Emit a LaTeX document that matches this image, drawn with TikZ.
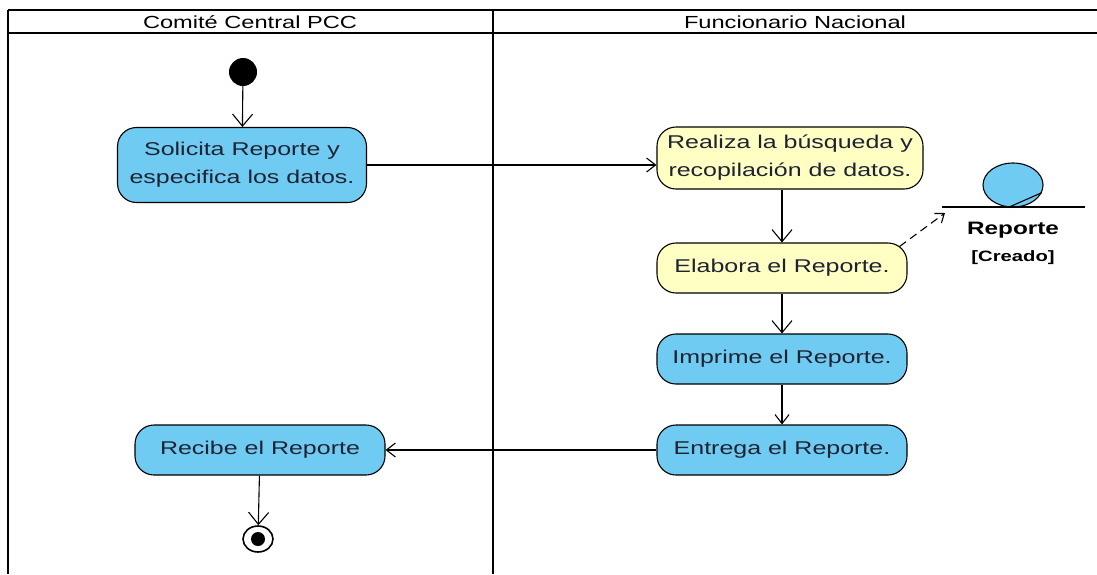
\documentclass[tikz,border=0pt]{standalone}
\usepackage{fontspec}
\setmainfont{Liberation Sans}[FakeStretch=1.35]
\usetikzlibrary{arrows.meta, positioning, shapes.geometric}
\definecolor{actblue}{RGB}{112,203,242}
\definecolor{actyellow}{RGB}{255,255,196}
\definecolor{txtdark}{RGB}{30,35,50}

\begin{document}
\begin{tikzpicture}[x=1pt, y=-1pt, node distance=4pt,
  act/.style={draw, line width=1.1pt, rounded corners=19pt, align=center, inner sep=2pt, text=txtdark, font=\fontsize{18.5}{28}\selectfont},
  blueact/.style={act, fill=actblue},
  yellowact/.style={act, fill=actyellow},
  flow/.style={draw, line width=1.1pt, -{Straight Barb[length=12pt, width=20pt]}},
  smallflow/.style={draw, line width=1.1pt, -{Straight Barb[length=9pt, width=14pt]}},
  lane/.style={line width=2.4pt}]
\useasboundingbox (0,0) rectangle (1097,574);
% swimlanes
\draw[line width=1.8pt] (8,10) -- (1097,10);
\draw[lane] (8,33) -- (1097,33);
\draw[lane] (8,10) -- (8,574);
\draw[lane] (493,10) -- (493,574);
\node[font=\fontsize{17.5}{20}\selectfont] (comite) at (250,22) {Comité Central PCC};
\node[font=\fontsize{17.5}{20}\selectfont] (funcionario) at (795,22) {Funcionario Nacional};
% activities
\node[fill=black, circle, minimum size=28pt, inner sep=0pt] (start) at (243,72) {};
\node[blueact, minimum width=249pt, minimum height=75pt] (solicita) at (242,165) {Solicita Reporte y\\especifica los datos.};
\node[yellowact, minimum width=266pt, minimum height=62pt] (realiza) at (790,158) {Realiza la búsqueda y\\recopilación de datos.};
\node[yellowact, minimum width=250pt, minimum height=50pt] (elabora) at (782,268) {Elabora el Reporte.};
\node[blueact, minimum width=250pt, minimum height=50pt] (imprime) at (782,359) {Imprime el Reporte.};
\node[blueact, minimum width=250pt, minimum height=50pt] (entrega) at (782,450) {Entrega el Reporte.};
\node[blueact, minimum width=250pt, minimum height=50pt] (recibe) at (260,450) {Recibe el Reporte};
\node[draw, ellipse, line width=1.6pt, minimum width=30pt, minimum height=26pt, inner sep=0pt] (fin) at (258,539) {};
\node[fill=black, circle, minimum size=14pt, inner sep=0pt] at (fin) {};
% object
\node[draw, line width=1.1pt, fill=actblue, ellipse, minimum width=60pt, minimum height=44pt, inner sep=0pt] (obj) at (1013,185) {};
\draw[line width=1.1pt] ([xshift=-5pt]obj.south) -- (obj.-15);
\coordinate (objl) at (942,207);
\coordinate (objr) at (1085,207);
\draw[line width=1.1pt] (objl) -- (objr);
\node[font=\bfseries\fontsize{18}{20}\selectfont, below=11pt of obj] (objname) {Reporte};
\node[font=\bfseries\fontsize{15}{17}\selectfont, below=5pt of objname] (objstate) {[Creado]};
% flows
\draw[flow] (start) -- (solicita);
\draw[smallflow] (solicita.east) -- (realiza.west |- solicita.east);
\draw[flow] (elabora.north |- realiza.south) -- (elabora);
\draw[flow] (elabora) -- (imprime);
\draw[smallflow] (imprime) -- (entrega);
\draw[smallflow] (entrega) -- (recibe);
\draw[flow] (recibe) -- (fin);
\coordinate (dashtip) at (945,213);
\draw[line width=1.1pt, dash pattern=on 8pt off 5pt, -{Straight Barb[length=8pt, width=12pt]}] ([shift={(-8pt,-4pt)}]elabora.north east) -- (dashtip);
\end{tikzpicture}
\end{document}
